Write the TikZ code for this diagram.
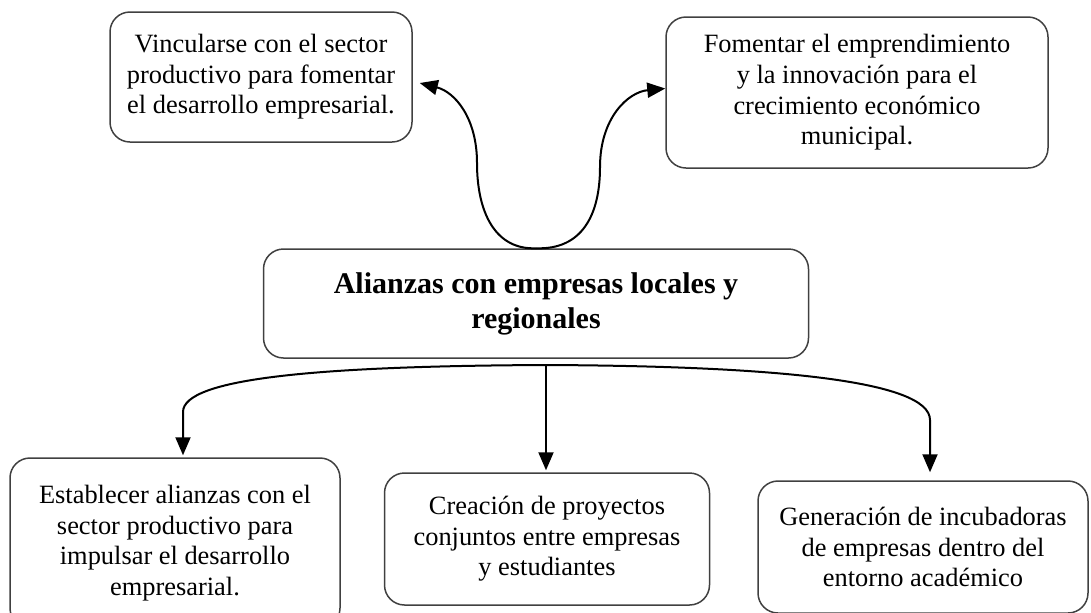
\documentclass[tikz,border=0pt]{standalone}
\usepackage{fontspec}
\setmainfont{Liberation Serif}
\usetikzlibrary{arrows.meta}

\begin{document}
\begin{tikzpicture} [
    x=0.5pt, y=-0.5pt,
    every node/.style = {draw=black!75, line width=0.75pt, rounded corners=10pt, align=center, inner sep=0pt, font=\fontsize{13.2}{15.3}\selectfont},
    title/.style = {font=\bfseries\fontsize{15}{17.5}\selectfont},
    arr/.style = {-{Triangle[length=9pt,width=7.5pt]}, line width=1pt, black}
]
    \clip (0,0) rectangle (1091,612);

    \node [title, minimum width=272.5pt, minimum height=54.5pt] (alianzas) at (536,303.5) {Alianzas con empresas locales y\\regionales};

    \node [minimum width=151pt, minimum height=65pt] (vinc) at (261,77) {Vincularse con el sector\\productivo para fomentar\\el desarrollo empresarial.};
    \node [minimum width=191pt, minimum height=75.5pt] (fomen) at (857,92.5) {Fomentar el emprendimiento\\y la innovación para el\\crecimiento económico\\municipal.};

    \node [minimum width=165pt, minimum height=85pt] (estab) at (175,543) {Establecer alianzas con el\\sector productivo para\\impulsar el desarrollo\\empresarial.};
    \node [minimum width=162.5pt, minimum height=66pt] (creac) at (547,539) {Creación de proyectos\\conjuntos entre empresas\\y estudiantes};
    \node [minimum width=165pt, minimum height=66pt] (gener) at (923,547) {Generación de incubadoras\\de empresas dentro del\\entorno académico};

    \coordinate (ml) at (477,163);
    \coordinate (mr) at (600,167);
    \coordinate (hub) at (546,365);
    \coordinate (bl) at (183,412);
    \coordinate (br) at (930,420);

    \draw[arr] (alianzas.north) .. controls (495,250) and (477,212) .. (ml) .. controls (477,118) and (455,92) .. ([xshift=3.5pt,yshift=-3pt]vinc.east);
    \draw[arr] (alianzas.north) .. controls (582,250) and (600,215) .. (mr) .. controls (600,118) and (628,92) .. ([yshift=2pt]fomen.west);

    \draw[arr] (hub) .. controls (320,366) and (183,378) .. (bl) -- ([yshift=1pt]bl |- estab.north);
    \draw[arr] (hub) -- ([yshift=1pt]hub |- creac.north);
    \draw[arr] (hub) .. controls (770,366) and (930,380) .. (br) -- ([yshift=4pt]br |- gener.north);
\end{tikzpicture}
\end{document}
